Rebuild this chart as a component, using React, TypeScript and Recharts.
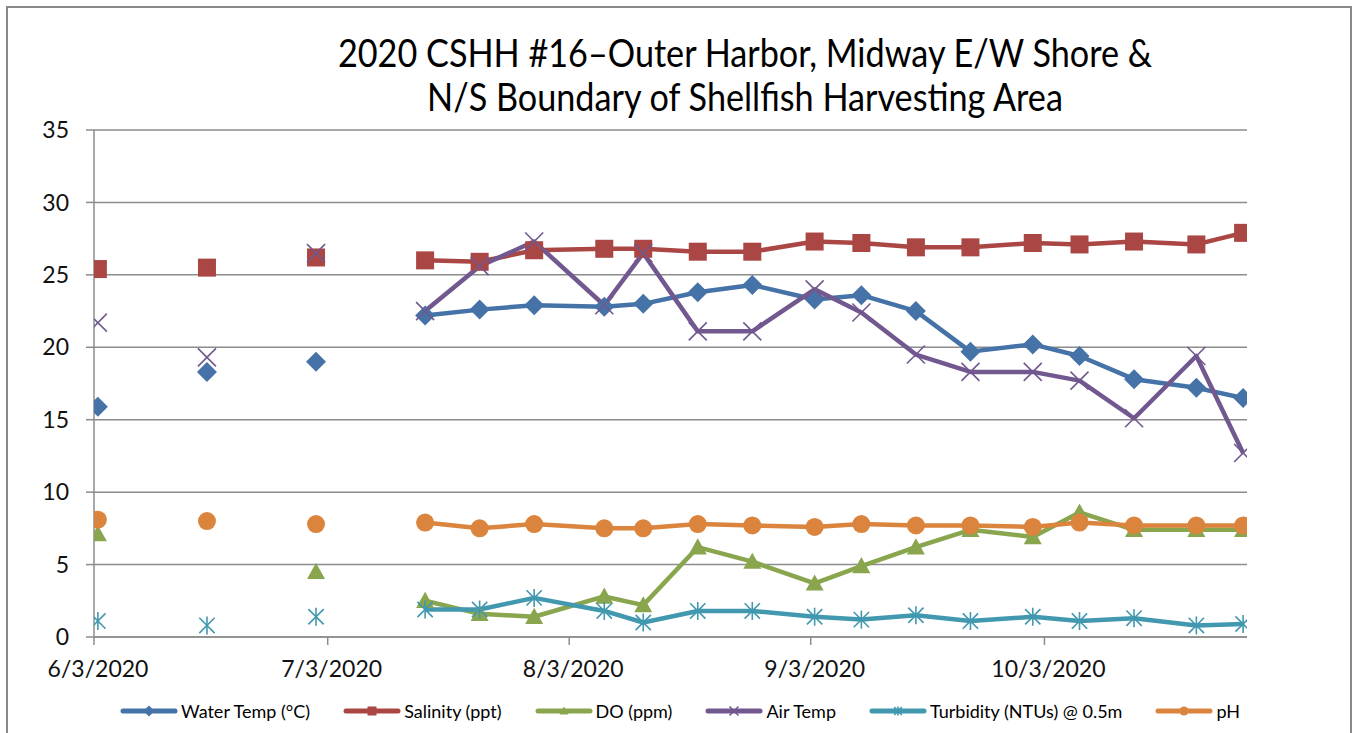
import React from "react"
import { LineChart, Line, XAxis, YAxis, CartesianGrid } from "recharts"

// sampling dates (the first three samples stand alone, the rest are joined)
const sampleDates = [
  "2020-06-03", "2020-06-17", "2020-07-01", "2020-07-15", "2020-07-22",
  "2020-07-29", "2020-08-07", "2020-08-12", "2020-08-19", "2020-08-26",
  "2020-09-03", "2020-09-09", "2020-09-16", "2020-09-23", "2020-10-01",
  "2020-10-07", "2020-10-14", "2020-10-22", "2020-10-28",
]
const joinedFrom = 3

const waterTemp = [15.9, 18.3, 19.0, 22.2, 22.6, 22.9, 22.8, 23.0, 23.8, 24.3, 23.3, 23.6, 22.5, 19.7, 20.2, 19.4, 17.8, 17.2, 16.5]
const salinity = [25.4, 25.5, 26.2, 26.0, 25.9, 26.7, 26.8, 26.8, 26.6, 26.6, 27.3, 27.2, 26.9, 26.9, 27.2, 27.1, 27.3, 27.1, 27.9]
const dissolvedOxygen = [7.1, null, 4.5, 2.5, 1.6, 1.4, 2.8, 2.2, 6.2, 5.2, 3.7, 4.9, 6.2, 7.4, 6.9, 8.6, 7.4, 7.4, 7.4]
const airTemp = [21.7, 19.3, 26.5, 22.5, 25.6, 27.3, 22.9, 26.5, 21.1, 21.1, 24.0, 22.4, 19.5, 18.3, 18.3, 17.7, 15.1, 19.4, 12.7]
const turbidity = [1.1, 0.8, 1.4, 1.9, 1.9, 2.7, 1.8, 1.0, 1.8, 1.8, 1.4, 1.2, 1.5, 1.1, 1.4, 1.1, 1.3, 0.8, 0.9]
const ph = [8.1, 8.0, 7.8, 7.9, 7.5, 7.8, 7.5, 7.5, 7.8, 7.7, 7.6, 7.8, 7.7, 7.7, 7.6, 7.9, 7.7, 7.7, 7.7]

const axisStart = "2020-06-03"
const axisEnd = "2020-10-29"
const dateTicks = ["2020-06-03", "2020-07-03", "2020-08-03", "2020-09-03", "2020-10-03"]
const yTicks = [0, 5, 10, 15, 20, 25, 30, 35]

const series = [
  { key: "water", name: "Water Temp (°C)", color: "#4572A7", shape: "diamond", values: waterTemp },
  { key: "sal", name: "Salinity (ppt)", color: "#AA4643", shape: "square", values: salinity },
  { key: "do", name: "DO (ppm)", color: "#89A54E", shape: "triangle", values: dissolvedOxygen },
  { key: "air", name: "Air Temp", color: "#71588F", shape: "x", values: airTemp },
  { key: "turb", name: "Turbidity (NTUs) @ 0.5m", color: "#4198AF", shape: "star", values: turbidity },
  { key: "ph", name: "pH", color: "#DB843D", shape: "circle", values: ph },
]

const FONT = "Lato, 'Open Sans', sans-serif"
const DAY = 86400000
const dayOf = (d: string) => (Date.parse(d) - Date.parse(axisStart)) / DAY

const fmtDate = (day: number) => {
  const d = new Date(Date.parse(axisStart) + day * DAY)
  return `${d.getUTCMonth() + 1}/${d.getUTCDate()}/${d.getUTCFullYear()}`
}

// one row per sample, plus blank rows after the unjoined early samples
const rows: any[] = []
sampleDates.forEach((d, i) => {
  const row: any = { x: dayOf(d) + 0.5 }
  series.forEach((s) => (row[s.key] = s.values[i]))
  rows.push(row)
  if (i < joinedFrom) {
    const gap: any = { x: dayOf(d) + 1.5 }
    series.forEach((s) => (gap[s.key] = null))
    rows.push(gap)
  }
})

function Marker({ shape, cx, cy, color, r = 9 }: any) {
  switch (shape) {
    case "diamond":
      return <polygon points={`${cx},${cy - r - 1} ${cx + r + 1},${cy} ${cx},${cy + r + 1} ${cx - r - 1},${cy}`} fill={color} />
    case "square":
      return <rect x={cx - r} y={cy - r} width={r * 2} height={r * 2} fill={color} />
    case "triangle":
      return <polygon points={`${cx},${cy - r} ${cx + r},${cy + r * 0.8} ${cx - r},${cy + r * 0.8}`} fill={color} />
    case "x":
      return (
        <g stroke={color} strokeWidth={1.6}>
          <line x1={cx - r} y1={cy - r} x2={cx + r} y2={cy + r} />
          <line x1={cx - r} y1={cy + r} x2={cx + r} y2={cy - r} />
        </g>
      )
    case "star":
      return (
        <g stroke={color} strokeWidth={1.6}>
          <line x1={cx - r * 0.85} y1={cy - r * 0.85} x2={cx + r * 0.85} y2={cy + r * 0.85} />
          <line x1={cx - r * 0.85} y1={cy + r * 0.85} x2={cx + r * 0.85} y2={cy - r * 0.85} />
          <line x1={cx} y1={cy - r} x2={cx} y2={cy + r} />
        </g>
      )
    default:
      return <circle cx={cx} cy={cy} r={r} fill={color} />
  }
}

function LegendRow() {
  return (
    <div
      style={{
        position: "absolute", top: 700, left: 0, width: 1360, display: "flex",
        justifyContent: "center", alignItems: "center", fontFamily: FONT, fontSize: 18, color: "#000",
      }}
    >
      {series.map((s) => (
        <div key={s.key} style={{ display: "flex", alignItems: "center", margin: "0 16.5px" }}>
          <svg width={58} height={20}>
            <line x1={3} y1={10} x2={55} y2={10} stroke={s.color} strokeWidth={5} strokeLinecap="round" />
            <Marker shape={s.shape} cx={29} cy={10} r={4.5} color={s.color} />
          </svg>
          <span style={{ marginLeft: 3 }}>{s.name}</span>
        </div>
      ))}
    </div>
  )
}

export default function App() {
  return (
    <div style={{ position: "fixed", left: 0, top: 0, width: 1357, height: 733, background: "#fff", overflow: "hidden" }}>
      <div style={{ position: "absolute", left: 6, top: 6, width: 1342, height: 800, border: "2px solid #8a8a8a" }} />
      <div
        style={{
          position: "absolute", left: 245, width: 1000, top: 30, textAlign: "center", whiteSpace: "nowrap",
          fontFamily: FONT, fontSize: 38, lineHeight: "44px", color: "#000",
          transform: "scaleX(0.9)", transformOrigin: "50% 0",
        }}
      >
        2020 CSHH #16–Outer Harbor, Midway E/W Shore &amp;
        <br />
        N/S Boundary of Shellfish Harvesting Area
      </div>
      <div style={{ position: "absolute", left: 0, top: 0 }}>
        <LineChart width={1357} height={733} data={rows} margin={{ top: 130, right: 110, bottom: 0, left: 0 }}>
          <CartesianGrid vertical={false} stroke="#8c8c8c" strokeWidth={1.5} />
          <XAxis
            dataKey="x"
            type="number"
            domain={[0, dayOf(axisEnd)]}
            ticks={dateTicks.map(dayOf)}
            tickFormatter={fmtDate}
            height={96}
            stroke="#8c8c8c"
            strokeWidth={1.5}
            tickSize={8}
            tickMargin={16}
            tick={{ fill: "#111", fontSize: 23, fontFamily: FONT, dx: 4 }}
            allowDataOverflow
          />
          <YAxis
            domain={[0, 35]}
            ticks={yTicks}
            width={94}
            stroke="#8c8c8c"
            strokeWidth={1.5}
            tickSize={8}
            tickMargin={17}
            tick={{ fill: "#111", fontSize: 23, fontFamily: FONT }}
          />
          {series.map((s) => (
            <Line
              key={s.key}
              dataKey={s.key}
              name={s.name}
              stroke={s.color}
              strokeWidth={4.5}
              strokeLinejoin="round"
              isAnimationActive={false}
              activeDot={false}
              dot={(p: any) =>
                p.cx == null || p.cy == null || p.value == null ? (
                  <g key={`${s.key}-${p.index}`} />
                ) : (
                  <Marker key={`${s.key}-${p.index}`} shape={s.shape} cx={p.cx} cy={p.cy} color={s.color} />
                )
              }
            />
          ))}
        </LineChart>
      </div>
      <LegendRow />
    </div>
  )
}
